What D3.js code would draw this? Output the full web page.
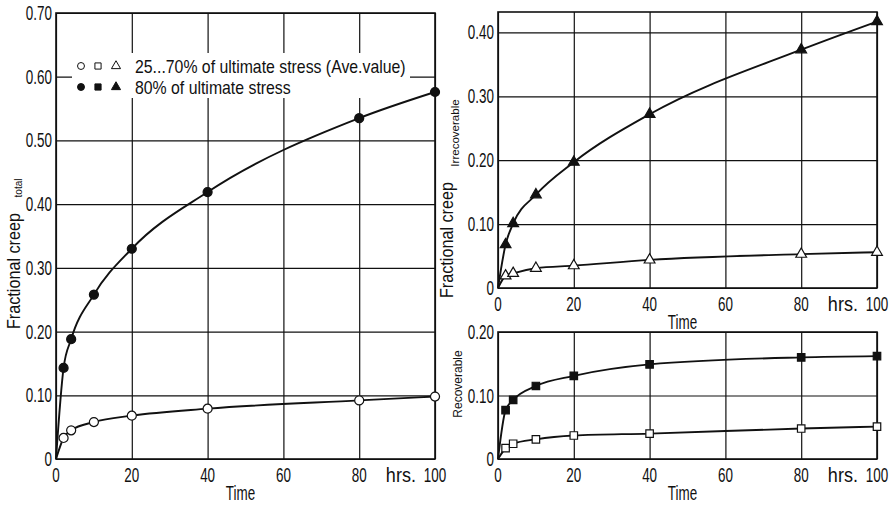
<!DOCTYPE html>
<html>
<head>
<meta charset="utf-8">
<script src="https://cdn.jsdelivr.net/npm/d3@7"></script>
<style>
  body { margin: 0; background: #fff; }
  svg { display: block; font-family: "Liberation Sans", Arial, sans-serif; }
</style>
</head>
<body>
<div id="chart"></div>
<script>
// time in hours
const hours = [2, 4, 10, 20, 40, 80, 100];
const xTicks = [0, 20, 40, 60, 80, 100];

// fractional creep, total
const totalAvg = [0.033, 0.045, 0.058, 0.068, 0.079, 0.092, 0.098];
const total80 = [0.143, 0.188, 0.258, 0.330, 0.419, 0.535, 0.576];
// irrecoverable part
const irrAvg = [0.019, 0.023, 0.031, 0.035, 0.044, 0.053, 0.056];
const irr80 = [0.068, 0.101, 0.146, 0.197, 0.272, 0.373, 0.417];
// recoverable part
const recAvg = [0.017, 0.024, 0.031, 0.037, 0.040, 0.048, 0.051];
const rec80 = [0.077, 0.093, 0.115, 0.131, 0.149, 0.160, 0.162];

const totalTicks = [0, 0.1, 0.2, 0.3, 0.4, 0.5, 0.6, 0.7];
const irrTicks = [0, 0.1, 0.2, 0.3, 0.4];
const recTicks = [0, 0.1, 0.2];

const legendRows = [
  { open: true, text: "25...70% of ultimate stress (Ave.value)" },
  { open: false, text: "80% of ultimate stress" },
];

const svg = d3
  .select("#chart")
  .append("svg")
  .attr("width", 893)
  .attr("height", 507);

const fmt = (d) => (d === 0 ? "0" : d3.format(".2f")(d));

// the original lettering is a narrow DIN face, so squeeze the text
const label = (parent, x, y, txt, size, sx, anchor, rot) =>
  parent
    .append("text")
    .attr(
      "transform",
      "translate(" + x + "," + y + ")" + (rot ? " rotate(-90)" : "") + " scale(" + sx + ",1)"
    )
    .attr("text-anchor", anchor || "start")
    .style("font-size", size + "px")
    .attr("fill", "#111")
    .text(txt);

const panel = (opts) => {
  const x = d3.scaleLinear().domain([0, 100]).range(opts.xr);
  const y = d3.scaleLinear().domain(opts.yd).range(opts.yr);
  const g = svg.append("g");
  const w = opts.xr[1] - opts.xr[0];
  const h = opts.yr[0] - opts.yr[1];

  // grid
  g.append("g")
    .attr("class", "grid")
    .attr("transform", "translate(0," + opts.yr[0] + ")")
    .call(d3.axisBottom(x).tickValues(xTicks).tickSize(-h).tickFormat(""));
  g.append("g")
    .attr("class", "grid")
    .attr("transform", "translate(" + opts.xr[0] + ",0)")
    .call(d3.axisLeft(y).tickValues(opts.yTicks).tickSize(-w).tickFormat(""));
  g.selectAll(".grid path").remove();
  g.selectAll(".grid line").attr("stroke", "#111").attr("stroke-width", 1.2);

  // frame
  g.append("rect")
    .attr("x", opts.xr[0])
    .attr("y", opts.yr[1])
    .attr("width", w)
    .attr("height", h)
    .attr("fill", "none")
    .attr("stroke", "#111")
    .attr("stroke-width", 1.6);

  // tick labels
  opts.yTicks.forEach((d) => {
    label(g, opts.xr[0] - 4, y(d) + 7, fmt(d), 21, 0.64, "end");
  });
  xTicks.forEach((d) => {
    label(g, x(d), opts.yr[0] + 23, d, 21, 0.64, "middle");
  });
  label(g, x(91), opts.yr[0] + 23, "hrs.", 21, 0.86, "middle");
  label(g, x(50) - 5, opts.yr[0] + 41, "Time", 21, 0.64, "middle");

  if (opts.before) opts.before(g, x, y);

  const line = d3
    .line()
    .x((d) => x(d[0]))
    .y((d) => y(d[1]))
    .curve(d3.curveMonotoneX);

  opts.series.forEach((s) => {
    const pts = [[0, 0]].concat(hours.map((t, i) => [t, s.values[i]]));
    g.append("path")
      .attr("d", line(pts))
      .attr("fill", "none")
      .attr("stroke", "#111")
      .attr("stroke-width", 1.9);
    g.append("g")
      .selectAll("path")
      .data(hours)
      .enter()
      .append("path")
      .attr("transform", (d, i) => "translate(" + x(d) + "," + y(s.values[i]) + ")")
      .attr("d", d3.symbol().type(opts.symbol).size(opts.symSize))
      .attr("fill", s.open ? "#fff" : "#111")
      .attr("stroke", "#111")
      .attr("stroke-width", 1.2);
  });
};

// left: total creep
panel({
  xr: [56, 435],
  yr: [459, 13],
  yd: [0, 0.7],
  yTicks: totalTicks,
  symbol: d3.symbolCircle,
  symSize: 64,
  series: [
    { values: totalAvg, open: true },
    { values: total80, open: false },
  ],
  before: (g) => {
    // legend
    g.append("rect")
      .attr("x", 72)
      .attr("y", 53)
      .attr("width", 338)
      .attr("height", 45)
      .attr("fill", "#fff");
    const syms = [d3.symbolCircle, d3.symbolSquare, d3.symbolTriangle];
    const symX = [81, 98, 116];
    legendRows.forEach((r, i) => {
      const yy = 66 + i * 21;
      syms.forEach((s, j) => {
        g.append("path")
          .attr("transform", "translate(" + symX[j] + "," + yy + ")")
          .attr("d", d3.symbol().type(s).size(j === 2 ? 36 : 38))
          .attr("fill", r.open ? "#fff" : "#111")
          .attr("stroke", "#111")
          .attr("stroke-width", 1);
      });
      label(g, 135, yy + 7, r.text, 18, 0.88);
    });
  },
});

// right top: irrecoverable
panel({
  xr: [498, 877],
  yr: [288, 12],
  yd: [0, 0.432],
  yTicks: irrTicks,
  symbol: d3.symbolTriangle,
  symSize: 50,
  series: [
    { values: irrAvg, open: true },
    { values: irr80, open: false },
  ],
});

// right bottom: recoverable
panel({
  xr: [498, 877],
  yr: [459, 332],
  yd: [0, 0.2],
  yTicks: recTicks,
  symbol: d3.symbolSquare,
  symSize: 56,
  series: [
    { values: recAvg, open: true },
    { values: rec80, open: false },
  ],
});

// axis titles
label(svg, 20, 271, "Fractional creep", 18, 0.9, "middle", true);
label(svg, 22, 188, "total", 10, 1, "middle", true);
label(svg, 453, 240, "Fractional creep", 18, 0.9, "middle", true);
label(svg, 459, 133, "Irrecoverable", 11, 1.05, "middle", true);
label(svg, 462, 384, "Recoverable", 12, 1, "middle", true);
</script>
</body>
</html>
